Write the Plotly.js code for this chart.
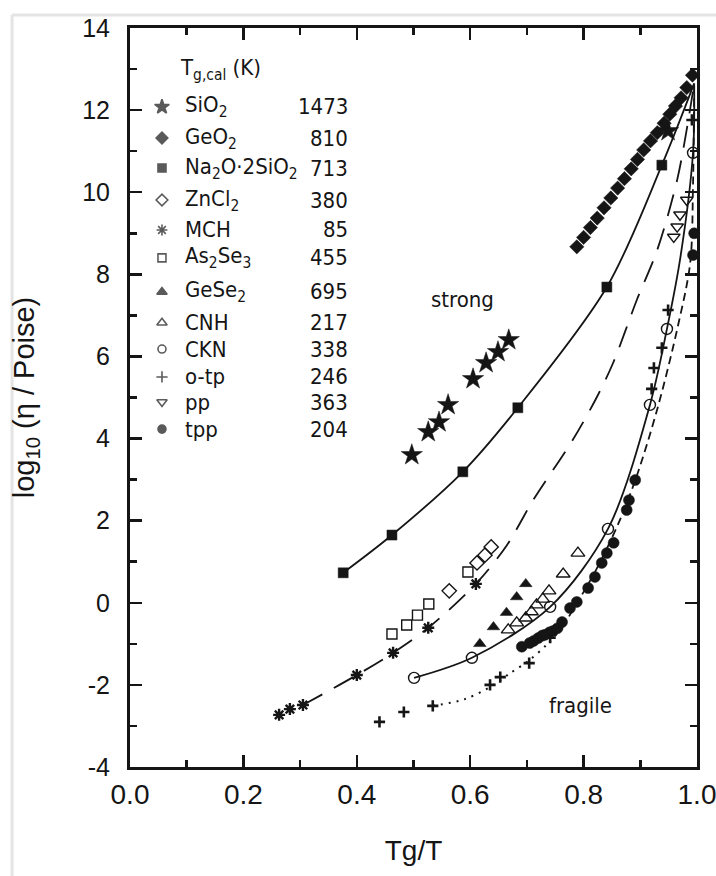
<!DOCTYPE html>
<html><head><meta charset="utf-8">
<script src="https://cdn.plot.ly/plotly-3.0.1.min.js"></script>
<style>html,body{margin:0;padding:0;background:#fff}#chart{width:716px;height:876px}</style>
</head><body><div id="chart"></div>
<script>
// ---------- data ----------
const sio2X = [0.497,0.526,0.545,0.561,0.605,0.628,0.649,0.668,0.949];
const sio2Y = [3.60,4.16,4.40,4.82,5.45,5.84,6.11,6.40,11.49];

const geo2X = [0.788,0.800,0.812,0.824,0.836,0.848,0.860,0.872,0.884,0.895,0.906,0.918,0.930,0.942,0.952,0.962,0.972,0.982,0.992];
const geo2Y = [8.67,8.90,9.14,9.37,9.62,9.86,10.10,10.33,10.57,10.80,11.03,11.25,11.45,11.68,11.90,12.10,12.30,12.55,12.85];

const na2oX = [0.376,0.462,0.587,0.684,0.841,0.938];
const na2oY = [0.73,1.65,3.19,4.75,7.69,10.66];
const na2oFitX = [0.376,0.462,0.587,0.684,0.841,0.938,0.995];
const na2oFitY = [0.73,1.65,3.19,4.75,7.69,10.66,12.65];

const zncl2X = [0.563,0.612,0.626,0.637];
const zncl2Y = [0.29,0.97,1.16,1.36];

const mchX = [0.263,0.282,0.305,0.400,0.464,0.526,0.610];
const mchY = [-2.73,-2.59,-2.49,-1.76,-1.22,-0.61,0.46];
const mchFitX = [0.305,0.400,0.464,0.526,0.610,0.665,0.711,0.781,0.823,0.852,0.894,0.930,0.965,0.984,0.995];
const mchFitY = [-2.49,-1.76,-1.22,-0.61,0.46,1.41,2.50,3.97,5.00,5.84,7.38,8.60,10.30,11.70,12.65];

const as2se3X = [0.462,0.488,0.507,0.527,0.596];
const as2se3Y = [-0.76,-0.54,-0.30,-0.03,0.75];

const gese2X = [0.617,0.641,0.664,0.682,0.698];
const gese2Y = [-1.00,-0.59,-0.24,0.14,0.46];

const cnhX = [0.667,0.682,0.698,0.708,0.717,0.728,0.739,0.764,0.790];
const cnhY = [-0.66,-0.49,-0.37,-0.22,-0.05,0.09,0.29,0.70,1.21];

const cknX = [0.501,0.603,0.741,0.843,0.917,0.947,0.993];
const cknY = [-1.83,-1.34,-0.10,1.80,4.82,6.67,10.96];
const cknFitX = [0.501,0.603,0.741,0.843,0.917,0.947,0.970,0.993,0.995];
const cknFitY = [-1.83,-1.34,-0.10,1.80,4.82,6.67,8.35,10.96,12.65];

const otpX = [0.440,0.483,0.534,0.635,0.653,0.704,0.741,0.920,0.924,0.938,0.949,0.991];
const otpY = [-2.90,-2.66,-2.51,-2.00,-1.81,-1.47,-0.85,5.21,5.72,6.21,7.13,11.76];
const otpLowFitX = [0.534,0.590,0.635,0.670,0.704,0.735,0.762];
const otpLowFitY = [-2.51,-2.35,-2.05,-1.72,-1.40,-1.02,-0.61];
const otpHighFitX = [0.762,0.820,0.862,0.894,0.931,0.966,0.988,0.993,0.995];
const otpHighFitY = [-0.61,0.75,1.95,3.10,4.77,6.72,8.28,10.2,12.65];

const ppX = [0.959,0.965,0.970,0.982];
const ppY = [8.91,9.16,9.45,9.81];

const tppX = [0.691,0.705,0.712,0.720,0.727,0.732,0.740,0.746,0.754,0.762,0.776,0.788,0.808,0.820,0.832,0.841,0.853,0.876,0.880,0.891,0.993,0.995];
const tppY = [-1.07,-0.98,-0.93,-0.86,-0.80,-0.78,-0.72,-0.69,-0.62,-0.47,-0.13,0.02,0.36,0.63,0.97,1.21,1.46,2.26,2.50,2.99,8.47,9.00];

// legend table
const legendNames = ["SiO<sub>2</sub>","GeO<sub>2</sub>","Na<sub>2</sub>O·2SiO<sub>2</sub>","ZnCl<sub>2</sub>","MCH","As<sub>2</sub>Se<sub>3</sub>","GeSe<sub>2</sub>","CNH","CKN","o-tp","pp","tpp"];
const legendTg = ["1473","810","713","380","85","455","695","217","338","246","363","204"];

// tick labels
const xTickVals = [0,0.2,0.4,0.6,0.8,1.0];
const xTickText = ["0.0","0.2","0.4","0.6","0.8","1.0"];
const yTickVals = [-4,-2,0,2,4,6,8,10,12,14];
const yTickText = ["-4","-2","0","2","4","6","8","10","12","14"];

// ---------- styling / layout constants ----------
const ink = "#151515";
const legendSymbols = ["star","diamond","square","diamond-open","asterisk-open","square-open","triangle-up","triangle-up-open","circle-open","cross-thin-open","triangle-down-open","circle"];
const legendSizes = [11,9,8,9,9,8,9,9,8,8,9,8];
const legendRowY = [12.08,11.32,10.59,9.81,9.08,8.40,7.57,6.82,6.18,5.50,4.89,4.23];
const legendSymX = 0.0564, legendNameX = 0.0935, legendNumX = 0.388, legendHeadX = 0.084;
const txtFont = "Liberation Sans Narrow, DejaVu Sans Condensed, Liberation Sans, sans-serif";

function pts(x, y, symbol, size, lw) {
  return {x: x, y: y, type: "scatter", mode: "markers", cliponaxis: false, showlegend: false,
    marker: {symbol: symbol, size: size, color: ink, line: {color: ink, width: lw === undefined ? 1.4 : lw}}};
}
function fit(x, y, dash, w) {
  return {x: x, y: y, type: "scatter", mode: "lines", cliponaxis: false, showlegend: false,
    line: {color: ink, width: w || 1.8, dash: dash, shape: "spline", smoothing: 0.9}};
}

const traces = [
  fit(na2oFitX, na2oFitY, "solid"),
  fit(mchFitX, mchFitY, "22px,13px"),
  fit(cknFitX, cknFitY, "solid"),
  fit(otpLowFitX, otpLowFitY, "2px,6px", 2),
  fit(otpHighFitX, otpHighFitY, "8px,5px"),
  pts(sio2X, sio2Y, "star", 16, 0.5),
  pts(geo2X, geo2Y, "diamond", 11, 0.5),
  pts(na2oX, na2oY, "square", 10, 0.5),
  pts(zncl2X, zncl2Y, "diamond-open", 11, 1.4),
  pts(mchX, mchY, "asterisk-open", 10, 2.4),
  pts(as2se3X, as2se3Y, "square-open", 10, 1.4),
  pts(gese2X, gese2Y, "triangle-up", 11, 0.5),
  pts(cnhX, cnhY, "triangle-up-open", 12, 1.4),
  pts(cknX, cknY, "circle-open", 11, 1.4),
  pts(otpX, otpY, "cross-thin-open", 8, 2.6),
  pts(ppX, ppY, "triangle-down-open", 11, 1.4),
  pts(tppX, tppY, "circle", 11, 0.5),
  {x: legendNames.map(() => legendSymX), y: legendRowY, type: "scatter", mode: "markers", cliponaxis: false, showlegend: false,
   marker: {symbol: legendSymbols, size: legendSizes, color: ink, line: {color: ink, width: 1.6}}}
];

const annotations = [];
legendNames.forEach((n, i) => {
  annotations.push({x: legendNameX, y: legendRowY[i], xref: "x", yref: "y", text: n, showarrow: false,
    xanchor: "left", yanchor: "middle", font: {family: txtFont, size: 22, color: ink}});
  annotations.push({x: legendNumX, y: legendRowY[i], xref: "x", yref: "y", text: legendTg[i], showarrow: false,
    xanchor: "right", yanchor: "middle", font: {family: txtFont, size: 22, color: ink}});
});
annotations.push({x: legendHeadX, y: 12.98, xref: "x", yref: "y", text: "T<sub>g,cal</sub> (K)", showarrow: false,
  xanchor: "left", yanchor: "middle", font: {family: txtFont, size: 22, color: ink}});
annotations.push({x: 0.586, y: 7.38, xref: "x", yref: "y", text: "strong", showarrow: false,
  xanchor: "center", yanchor: "middle", font: {family: txtFont, size: 22, color: ink}});
annotations.push({x: 0.794, y: -2.49, xref: "x", yref: "y", text: "fragile", showarrow: false,
  xanchor: "center", yanchor: "middle", font: {family: txtFont, size: 22, color: ink}});

const axFont = "Liberation Sans, Arial, sans-serif";
const layout = {
  width: 716, height: 876,
  margin: {l: 130, r: 19, t: 28, b: 109},
  paper_bgcolor: "#ffffff", plot_bgcolor: "#ffffff",
  font: {family: axFont, color: ink},
  xaxis: {range: [0, 1], showgrid: false, zeroline: false, showline: true, linecolor: ink, linewidth: 3,
    mirror: "ticks", ticks: "inside", ticklen: 12, tickwidth: 2.5, tickcolor: ink,
    tickvals: xTickVals, ticktext: xTickText, ticklabeloverflow: "allow",
    tickfont: {family: axFont, size: 28, color: ink},
    minor: {dtick: 0.1, ticks: "inside", ticklen: 7, tickwidth: 2.5, tickcolor: ink, showgrid: false},
    title: {text: "Tg/T", font: {family: axFont, size: 28, color: ink}, standoff: 32}},
  yaxis: {range: [-4, 14], showgrid: false, zeroline: false, showline: true, linecolor: ink, linewidth: 3,
    mirror: "ticks", ticks: "inside", ticklen: 12, tickwidth: 2.5, tickcolor: ink,
    tickvals: yTickVals, ticktext: yTickText, ticklabeloverflow: "allow",
    tickfont: {family: axFont, size: 25, color: ink}, ticklabelstandoff: 12,
    minor: {dtick: 1, ticks: "inside", ticklen: 7, tickwidth: 2.5, tickcolor: ink, showgrid: false},
    title: {text: "log<sub>10</sub> (η / Poise)", font: {family: axFont, size: 29, color: ink}, standoff: 40}},
  annotations: annotations,
  shapes: [
    {type: "line", xref: "paper", yref: "paper", x0: -0.208, x1: 1.05, y0: 1.0176, y1: 1.0176, line: {color: "#e4e4e4", width: 3}},
    {type: "line", xref: "paper", yref: "paper", x0: -0.208, x1: -0.208, y0: 1.0176, y1: -0.2, line: {color: "#e4e4e4", width: 3}}
  ],
  showlegend: false
};

Plotly.newPlot("chart", traces, layout, {displayModeBar: false, staticPlot: true});
</script></body></html>
